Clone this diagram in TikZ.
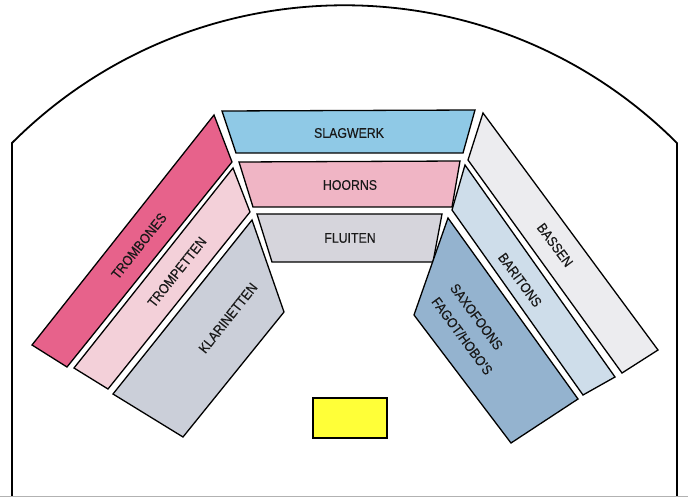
\documentclass[tikz,border=0pt]{standalone}
\usepackage{fontspec}
\setmainfont{Liberation Sans}[FakeStretch=0.88]
\newfontfamily\seatfont{Liberation Sans}[FakeStretch=0.88,FakeBold=0.4]

\definecolor{trombonepink}{HTML}{E7628B}
\definecolor{trompetpink}{HTML}{F3D0D9}
\definecolor{klarinetgrey}{HTML}{CBCFD9}
\definecolor{slagblue}{HTML}{8FC9E6}
\definecolor{hoornpink}{HTML}{F0B5C5}
\definecolor{fluitgrey}{HTML}{D6D5DC}
\definecolor{basgrey}{HTML}{ECECEF}
\definecolor{baritonblue}{HTML}{CEDDEA}
\definecolor{saxblue}{HTML}{94B3CF}
\definecolor{dirigentyellow}{HTML}{FFFF38}

\begin{document}
\begin{tikzpicture}[
		x=1pt,
		y=-1pt,
		hall/.style={draw=black,line width=1.8pt},
		band/.style={draw=black,line width=1.3pt,line join=miter},
		lbl/.style={font=\seatfont\fontsize{14}{17}\selectfont,text=black!90,inner sep=0pt}
		]
		
		\useasboundingbox (0,0) rectangle (688,497);
		
		% =====================================================
		% Hall outline
		% =====================================================
		\draw[hall] (12,497) -- (12,143)
		arc[start angle=-135,end angle=-45,radius=470.2] -- (677,497);
		\draw[black!30,line width=1pt] (0,496) -- (688,496);
		
		% =====================================================
		% Middle rows
		% =====================================================
		\draw[band,fill=slagblue] (222,111) -- (475,110) -- (463,153) -- (236,153) -- cycle;
		\draw[band,fill=hoornpink] (239,162) -- (460,161) -- (452,207) -- (253,207) -- cycle;
		\draw[band,fill=fluitgrey] (257,214) -- (442,214) -- (433,262) -- (272,262) -- cycle;
		
		\node[lbl] (slagwerk) at (349,133) {SLAGWERK};
		\node[lbl] (hoorns) at (350,185) {HOORNS};
		\node[lbl] (fluiten) at (350,238) {FLUITEN};
		
		% =====================================================
		% Left wing
		% =====================================================
		\draw[band,fill=trombonepink] (214,115) -- (232,162) -- (67,367) -- (32,345) -- cycle;
		\draw[band,fill=trompetpink] (233,168) -- (250,212) -- (108,389) -- (74,368) -- cycle;
		\draw[band,fill=klarinetgrey] (252,220) -- (284,312) -- (183,437) -- (113,394) -- cycle;
		
		\node[lbl,rotate=51.6] (trombones) at (139,246) {TROMBONES};
		\node[lbl,rotate=51.6] (trompetten) at (177,272) {TROMPETTEN};
		\node[lbl,rotate=51.6] (klarinetten) at (228,318) {KLARINETTEN};
		
		% =====================================================
		% Right wing
		% =====================================================
		\draw[band,fill=basgrey] (483,113) -- (658,350) -- (622,373) -- (468,160) -- cycle;
		\draw[band,fill=baritonblue] (465,165) -- (615,377) -- (583,395) -- (452,210) -- cycle;
		\draw[band,fill=saxblue] (448,218) -- (578,399) -- (511,443) -- (414,315) -- cycle;
		
		\node[lbl,rotate=-53.6] (bassen) at (555,245) {BASSEN};
		\node[lbl,rotate=-53.6] (baritons) at (520,280) {BARITONS};
		\node[lbl,rotate=-53.6,align=left,anchor=west,
		font=\seatfont\fontsize{14}{23}\selectfont] (saxofoons) at (444,292)
		{SAXOFOONS\\FAGOT/HOBO'S};
		
		% =====================================================
		% Conductor
		% =====================================================
		\draw[band,line width=1.1pt,fill=dirigentyellow] (313,398) rectangle (387,438);
		
	\end{tikzpicture}
\end{document}
